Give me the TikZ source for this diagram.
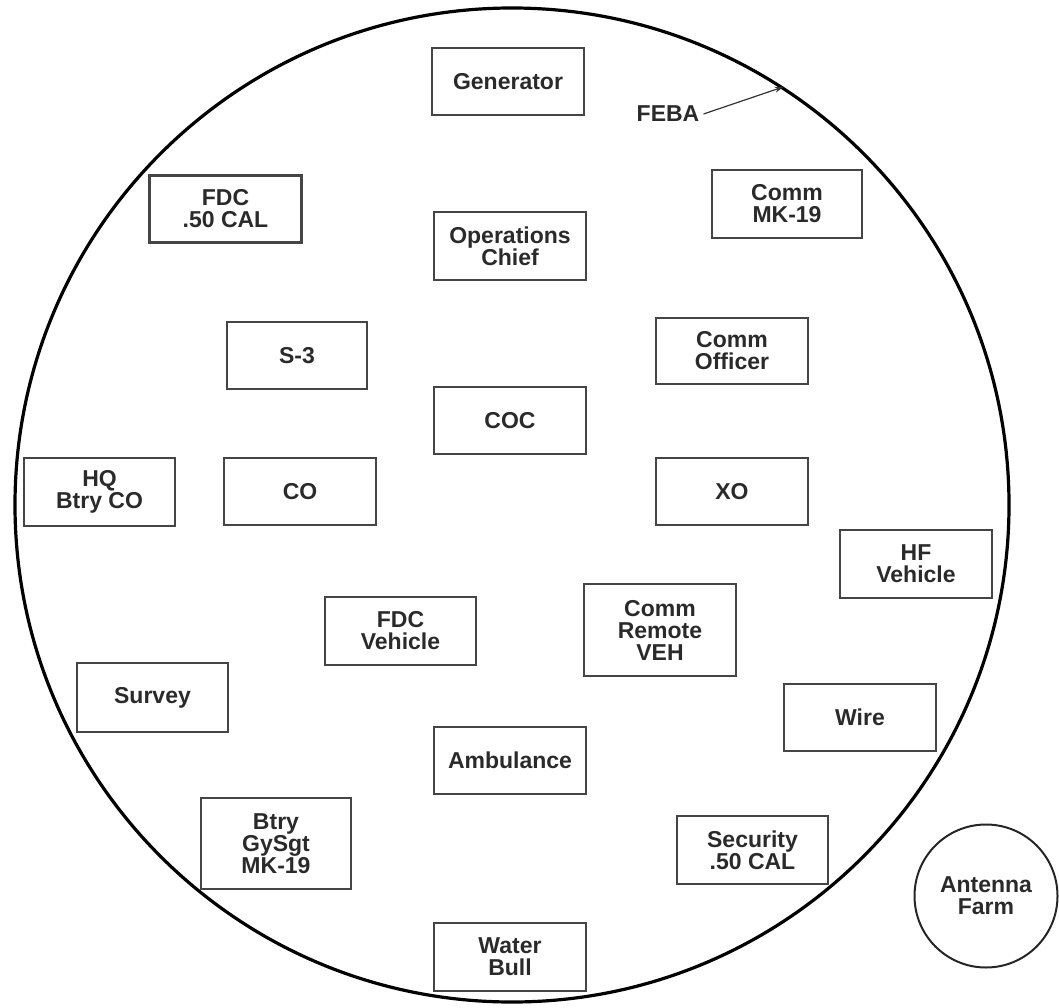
\documentclass[tikz,border=0pt]{standalone}
\usepackage{fontspec}
\setmainfont{Liberation Sans}
\usetikzlibrary{arrows.meta}
\definecolor{txt}{HTML}{2A2A2A}
\definecolor{edge}{HTML}{454545}
\tikzset{
  box/.style={draw=edge, line width=2.4pt, minimum width=152pt, minimum height=67pt,
    inner sep=0pt, align=center, text=txt, font=\fontsize{23}{22}\selectfont\bfseries},
  lbl/.style={inner sep=0pt, align=center, text=txt, font=\fontsize{23}{22}\selectfont\bfseries},
}
\begin{document}
\begin{tikzpicture}[x=1pt,y=-1pt]
\useasboundingbox (0,0) rectangle (1059,1008);
\node[draw=black, line width=3.2pt, circle, minimum size=994pt, inner sep=0pt] (big) at (512,505) {};
\node[draw=black!85, line width=2pt, circle, minimum size=143pt, inner sep=0pt, lbl] (ant) at (986,896) {Antenna\\Farm};

\node[box] (gen) at (508,81.5) {Generator};
\node[box] (fdc50) at (225.5,209) {FDC\\.50 CAL};
\node[box, minimum height=68pt] (ops) at (510,246) {Operations\\Chief};
\node[box, minimum width=150pt, minimum height=68pt] (mk19) at (787,204) {Comm\\MK-19};
\node[box, minimum width=140pt] (s3) at (297,355.5) {S-3};
\node[box, minimum height=66pt] (commo) at (732,351) {Comm\\Officer};
\node[box] (coc) at (510,420.5) {COC};
\node[box, minimum width=151pt, minimum height=68pt] (hq) at (99.5,492) {HQ\\Btry CO};
\node[box] (co) at (300,491.5) {CO};
\node[box] (xo) at (732,491.5) {XO};
\node[box, minimum height=68pt] (hf) at (916,564) {HF\\Vehicle};
\node[box, minimum width=151pt, minimum height=68pt] (fdcv) at (400.5,631) {FDC\\Vehicle};
\node[box, minimum height=92pt] (remote) at (660,630) {Comm\\Remote\\VEH};
\node[box, minimum width=151pt, minimum height=69pt] (survey) at (152.5,697.5) {Survey};
\node[box] (wire) at (860,717.5) {Wire};
\node[box] (amb) at (510,760.5) {Ambulance};
\node[box, minimum width=150pt, minimum height=91pt] (gysgt) at (276,843.5) {Btry\\GySgt\\MK-19};
\node[box, minimum width=151pt, minimum height=68pt] (sec) at (752.5,850) {Security\\.50 CAL};
\node[box, minimum height=68pt] (water) at (510,957) {Water\\Bull};

\node[lbl] (feba) at (668,114) {FEBA};
\draw[line width=1.2pt, black!80, -{Stealth[length=9pt,width=6pt]}] (feba.east) ++(4pt,0) -- (big.57.8);
\end{tikzpicture}
\end{document}
